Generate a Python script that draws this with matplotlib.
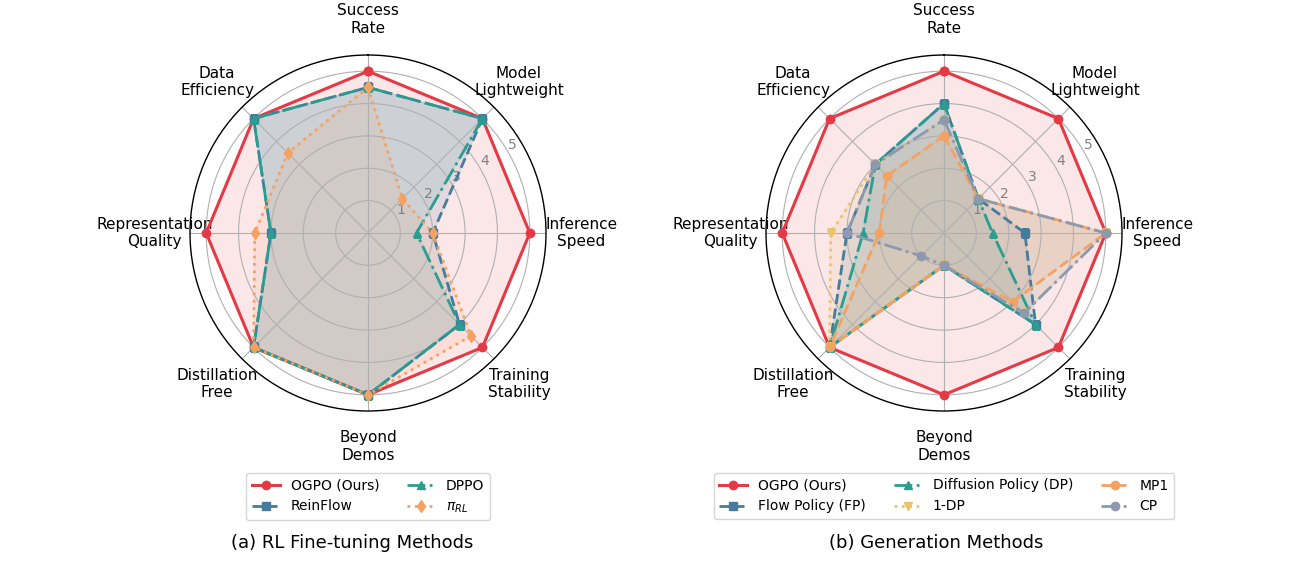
import numpy as np
import matplotlib
matplotlib.use("Agg")
import matplotlib.pyplot as plt

categories = ["Success\nRate", "Model\nLightweight", "Inference\nSpeed", "Training\nStability",
              "Beyond\nDemos", "Distillation\nFree", "Representation\nQuality", "Data\nEfficiency"]

# (a) RL fine-tuning methods
rl_names = ["OGPO (Ours)", "ReinFlow", "DPPO", r"$\pi_{RL}$"]
ogpo_a = [5, 5, 5, 5, 5, 5, 5, 5]
reinflow = [4.5, 5, 2, 4, 5, 5, 3, 5]
dppo = [4.5, 5, 1.5, 4, 5, 5, 3, 5]
pi_rl = [4.5, 1.5, 2, 4.5, 5, 5, 3.5, 3.5]

# (b) generation methods
gen_names = ["OGPO (Ours)", "Flow Policy (FP)", "Diffusion Policy (DP)", "1-DP", "MP1", "CP"]
ogpo_b = [5, 5, 5, 5, 5, 5, 5, 5]
fp = [4, 1.5, 2.5, 4, 1, 5, 3, 3]
dp = [4, 1.5, 1.5, 4, 1, 5, 2.5, 3]
one_dp = [3.5, 1.5, 5, 3.5, 1, 5, 3.5, 3]
mp1 = [3, 1.5, 5, 3, 1, 5, 2, 2.5]
cp = [3.5, 1.5, 5, 3.5, 1, 1, 3, 3]

RED, BLUE, TEAL = "#E63946", "#457B9D", "#2A9D8F"
ORANGE, YELLOW, GREY = "#F4A261", "#E9C46A", "#8D99AE"

styles_a = [(RED, "-", "o", 2.2), (BLUE, "--", "s", 2.0), (TEAL, "-.", "^", 2.0), (ORANGE, ":", "d", 2.0)]
styles_b = [(RED, "-", "o", 2.2), (BLUE, "--", "s", 2.0), (TEAL, "-.", "^", 2.0),
            (YELLOW, ":", "v", 2.0), (ORANGE, "--", "o", 2.0), (GREY, "-.", "o", 2.0)]

W, H = 1290, 579
fig = plt.figure(figsize=(W / 100, H / 100), dpi=100)

angles = np.linspace(0, 2 * np.pi, len(categories), endpoint=False)


def radar(cx, cy, series, names, styles, ncol, title, title_x):
    R = 178
    ax = fig.add_axes([(cx - R) / W, (H - cy - R) / H, 2 * R / W, 2 * R / H], projection="polar")
    ax.set_theta_offset(np.pi / 2)
    ax.set_theta_direction(-1)
    ang = np.concatenate([angles, angles[:1]])
    for vals, name, (c, ls, mk, lw) in zip(series, names, styles):
        v = np.concatenate([vals, vals[:1]])
        ax.plot(ang, v, color=c, linestyle=ls, marker=mk, linewidth=lw, markersize=6, label=name)
        ax.fill(ang, v, color=c, alpha=0.12)
    ax.set_ylim(0, 5.5)
    ax.set_yticks([1, 2, 3, 4, 5])
    ax.set_yticklabels(["1", "2", "3", "4", "5"], color="#808080", fontsize=10)
    ax.set_rlabel_position(60)
    ax.set_xticks(angles)
    ax.set_xticklabels(categories, fontsize=11)
    ax.tick_params(axis="x", pad=15)
    ax.grid(color="#b0b0b0", linewidth=0.8)
    ax.spines["polar"].set_linewidth(1.0)
    fig.legend(loc="upper center", bbox_to_anchor=(cx / W, 1 - 466 / H), ncol=ncol,
               fontsize=10, handles=ax.get_lines(), columnspacing=2.0)
    fig.text(title_x / W, 1 - 543 / H, title, ha="center", va="center", fontsize=13)
    return ax


radar(368, 233, [ogpo_a, reinflow, dppo, pi_rl], rl_names, styles_a, 2,
      "(a) RL Fine-tuning Methods", 352)
radar(944, 233, [ogpo_b, fp, dp, one_dp, mp1, cp], gen_names, styles_b, 3,
      "(b) Generation Methods", 936)

fig.savefig("out.png", dpi=100)
